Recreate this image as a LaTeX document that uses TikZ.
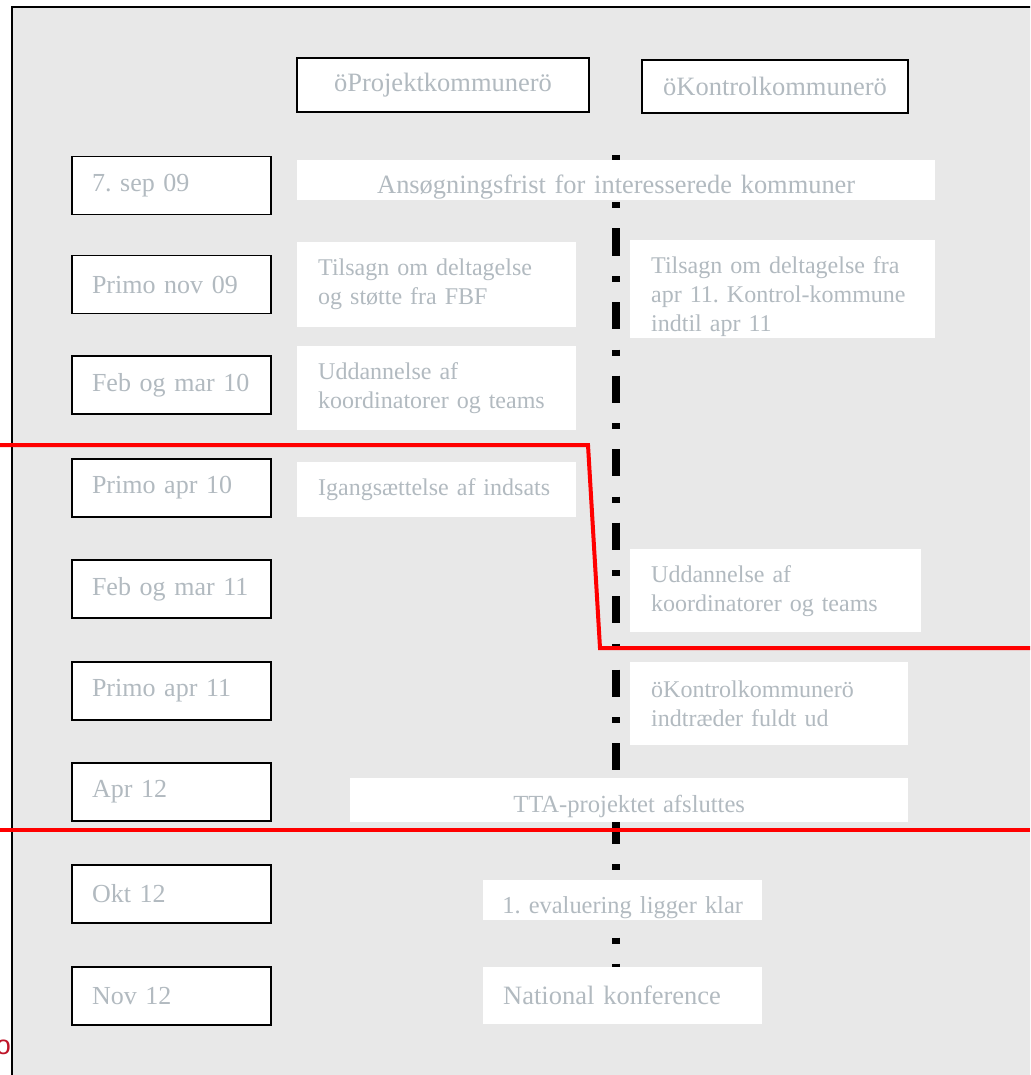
\documentclass[tikz,border=0pt]{standalone}
\usepackage{fontspec}
\setmainfont{Liberation Serif}
\setsansfont{Liberation Sans}
\frenchspacing
\definecolor{bggray}{RGB}{232,232,232}
\definecolor{txtgray}{RGB}{178,186,192}
\definecolor{logored}{RGB}{190,20,40}

\begin{document}
\begin{tikzpicture}[x=1pt,y=-1pt,
	datebox/.style={draw=black, line width=1.8pt, fill=white, inner xsep=20pt, inner ysep=0pt, text width=159pt, minimum height=58pt, align=left, text=txtgray, font=\fontsize{26}{31}\selectfont},
	headbox/.style={draw=black, line width=1.8pt, fill=white, inner sep=0pt, text=txtgray, font=\fontsize{26.5}{31}\selectfont},
	notebox/.style={fill=white, anchor=north west, inner xsep=21pt, inner ysep=0pt, align=left, text=txtgray, font=\fontsize{24}{29}\selectfont},
	divider/.style={line width=7.5pt, dash pattern=on 27pt off 20.5pt on 6pt off 20pt},
	redline/.style={red, line width=4pt}]
		\useasboundingbox (0,0) rectangle (1030,1075);
		\clip (0,0) rectangle (1030,1075);
		\draw[line width=2pt, fill=bggray] (12,7) rectangle (1045,1090);
		\node[anchor=east, inner sep=0pt, text=logored, font=\sffamily\fontsize{27}{30}\selectfont] (logo) at (11,1047) {o};
		% dash-dot divider between the two columns
		\coordinate (divtop) at (616,155);
		\coordinate (divbot) at (616,975);
		\draw[divider] (divtop) -- (divbot);
		% column heads
		\node[headbox, minimum width=292pt, minimum height=54pt] (projhead) at (443,85) {öProjektkommunerö};
		\node[headbox, minimum width=266pt, minimum height=53pt] (kontrhead) at (775,86.5) {öKontrolkommunerö};
		% dates
		\foreach \y/\nm/\txt in {
			185.5/d1/7. sep 09,
			284.5/d2/Primo nov 09,
			385/d3/Feb og mar 10,
			488/d4/Primo apr 10,
			589/d5/Feb og mar 11,
			691/d6/Primo apr 11,
			792/d7/Apr 12,
			894/d8/Okt 12,
			996/d9/Nov 12
		}{
			\node[datebox] (\nm) at (171.5,\y) {\txt};
		}
		% events
		\node[notebox, inner xsep=0pt, align=center, text width=638pt, text height=33pt, text depth=7pt, font=\fontsize{26.4}{31}\selectfont] (frist) at (297,160) {Ansøgningsfrist for interesserede kommuner};
		\node[notebox, text width=237pt, minimum height=85pt] (tilsagnP) at (297,242) {Tilsagn om deltagelse\\og støtte fra FBF};
		\node[notebox, text width=263pt, minimum height=98pt] (tilsagnK) at (630,240) {\rule{0pt}{31pt}Tilsagn om deltagelse fra\\apr 11. Kontrol-kommune\\indtil apr 11};
		\node[notebox, text width=237pt, minimum height=84pt] (uddP) at (297,346) {Uddannelse af\\koordinatorer og teams};
		\node[notebox, text width=237pt, minimum height=55pt] (igang) at (297,462) {Igangsættelse af indsats};
		\node[notebox, text width=249pt, minimum height=83pt] (uddK) at (630,549) {Uddannelse af\\koordinatorer og teams};
		\node[notebox, text width=236pt, minimum height=83pt] (indtr) at (630,662) {öKontrolkommunerö\\indtræder fuldt ud};
		\node[notebox, inner xsep=0pt, align=center, text width=558pt, text height=34pt, text depth=10pt, font=\fontsize{24.6}{29}\selectfont] (afslut) at (350,778) {TTA-projektet afsluttes};
		\node[notebox, inner xsep=0pt, align=center, text width=279pt, text height=33pt, text depth=7pt, font=\fontsize{24.4}{29}\selectfont] (evalu) at (483,880) {1. evaluering ligger klar};
		\node[notebox, inner xsep=20pt, text width=239pt, minimum height=57pt, font=\fontsize{26.5}{31}\selectfont] (konf) at (483,967) {National konference};
		% phase borders
		\coordinate (r1) at (0,445);
		\coordinate (r2) at (588,445);
		\coordinate (r3) at (600,648);
		\coordinate (r4) at (1030,648);
		\coordinate (r5) at (0,830);
		\coordinate (r6) at (1030,830);
		\draw[redline] (r1) -- (r2) -- (r3) -- (r4);
		\draw[redline] (r5) -- (r6);
\end{tikzpicture}
\end{document}
